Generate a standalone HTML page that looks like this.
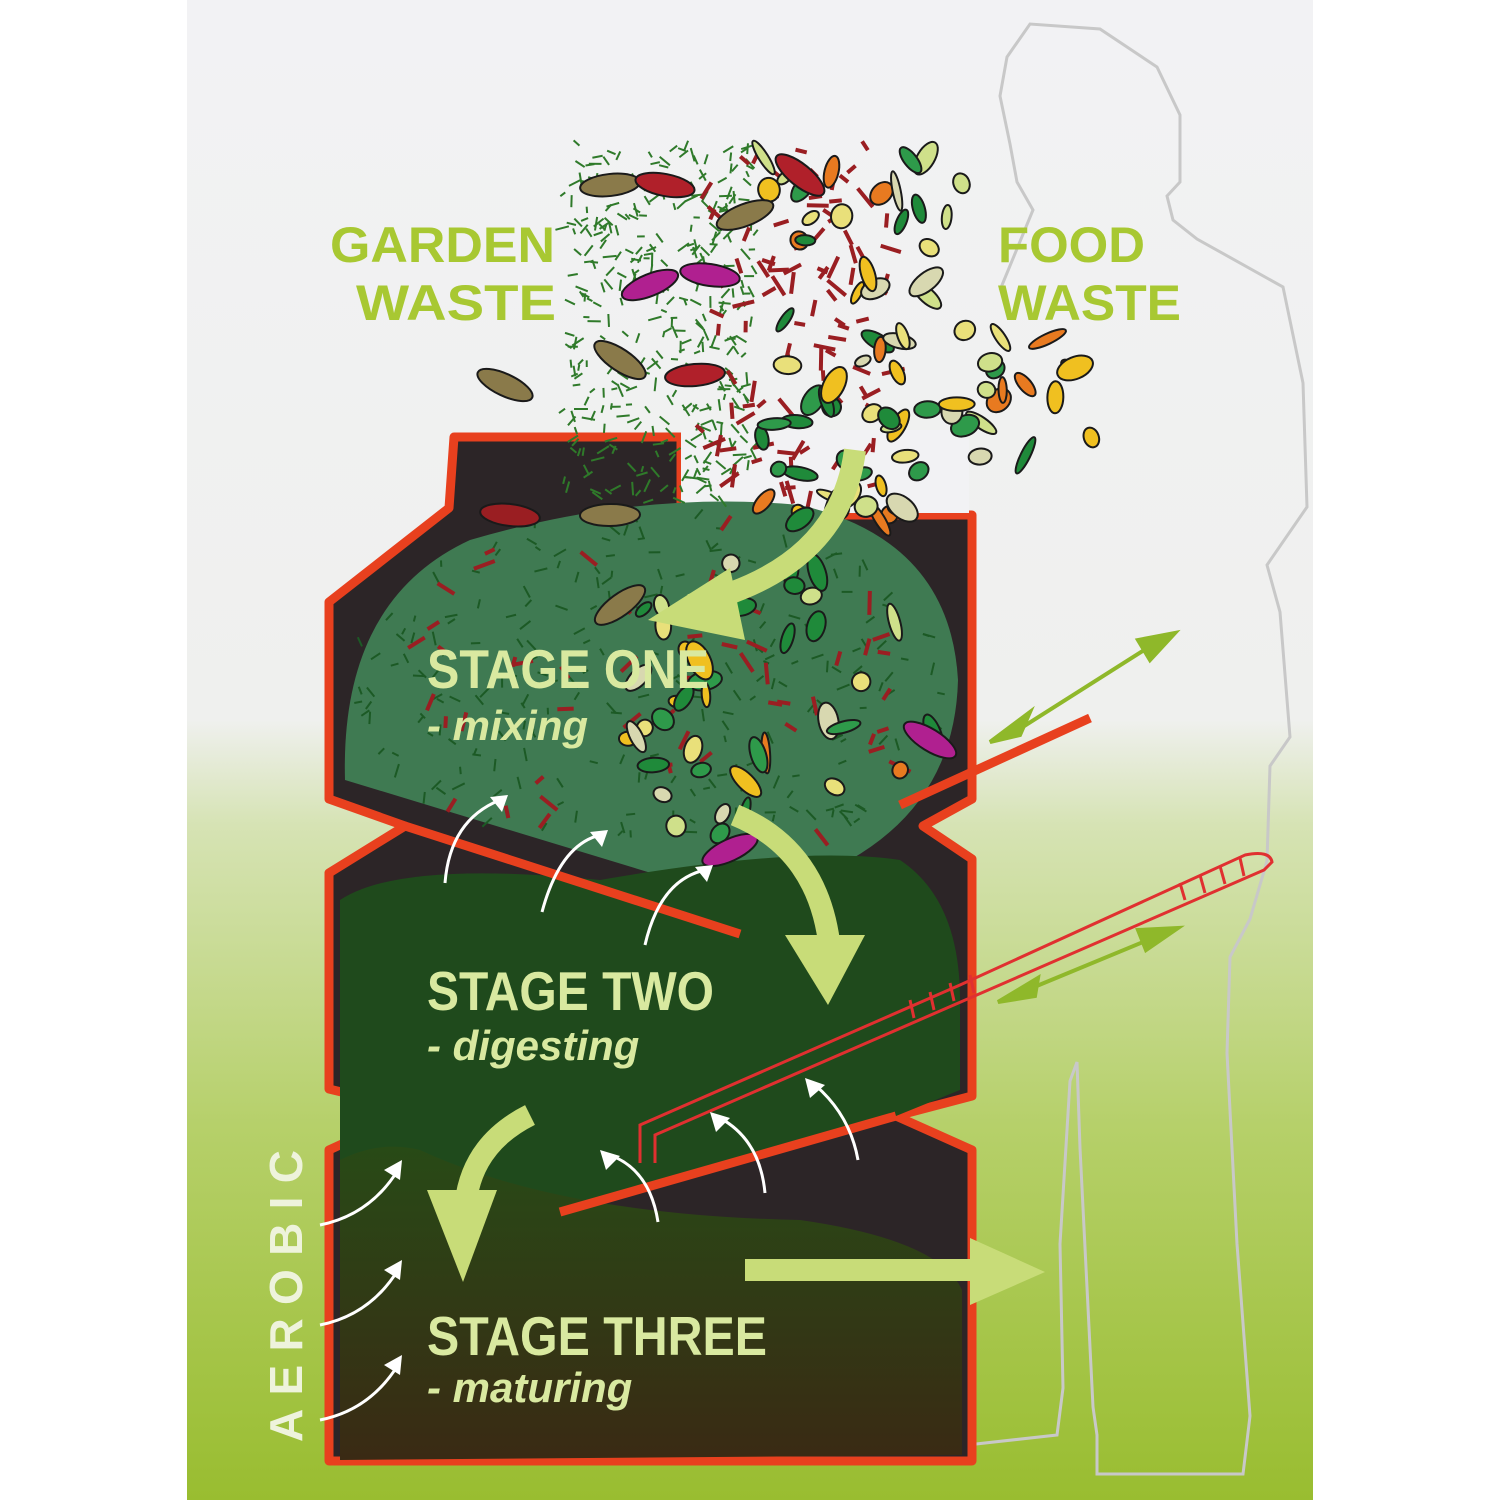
<!DOCTYPE html>
<html><head><meta charset="utf-8"><style>
html,body{margin:0;padding:0;background:#fff;}
svg{display:block}
text{font-family:"Liberation Sans",sans-serif;font-weight:bold}
</style></head><body>
<svg id="s" width="1500" height="1500" viewBox="0 0 1500 1500" xmlns="http://www.w3.org/2000/svg">
<defs>
<linearGradient id="bg" x1="0" y1="0" x2="0" y2="1">
<stop offset="0" stop-color="#f2f2f4"/><stop offset="0.48" stop-color="#eff0ee"/>
<stop offset="0.55" stop-color="#d6e3b4"/><stop offset="0.75" stop-color="#b6d06a"/>
<stop offset="1" stop-color="#99bd30"/></linearGradient>
<linearGradient id="g3" x1="0" y1="0" x2="0" y2="1">
<stop offset="0" stop-color="#284a16"/><stop offset="1" stop-color="#3a2a14"/></linearGradient>
</defs>
<rect x="187" y="0" width="1126" height="1500" fill="url(#bg)"/>
<!-- person -->
<path d="M967,1445 L1057,1435 L1063,1388 L1060,1244 L1070,1081 L1077,1062 L1080,1148 L1093,1407 L1097,1435 L1097,1474 L1243,1474 L1250,1416 L1237,1244 L1227,1053 L1230,957 L1250,919 L1267,861 L1270,766 L1290,737 L1280,612 L1267,565 L1307,507 L1303,383 L1283,287 L1197,239 L1173,220 L1167,196 L1180,182 L1180,115 L1157,67 L1100,29 L1030,24 L1007,57 L1000,96 L1010,144 L1017,182 L1033,210 L1000,290" fill="none" stroke="#c8c8c8" stroke-width="3"/>
<!-- bin body -->
<path d="M329,602 L449,508 L454,437 L681,437 L681,515 L972,515 L972,799 L923,826 L972,859 L972,1096 L896,1116 L972,1150 L972,1461 L329,1461 L329,1150 L416,1110 L329,1089 L329,873 L405,826 L329,799 Z" fill="#2c2527" stroke="#e8401e" stroke-width="9" stroke-linejoin="round"/>
<rect x="681" y="430" width="288" height="83" fill="#f2f2f4"/>
<!-- stage fills -->
<path d="M345,780 Q340,600 470,540 Q640,490 800,505 Q950,540 958,680 Q955,800 850,860 L740,900 Z" fill="#3f7a52"/>
<path d="M340,1100 L340,900 Q400,860 600,880 Q800,845 900,860 Q960,900 960,1000 L960,1090 L896,1116 L560,1212 L340,1160 Z" fill="#1f4a1c"/>
<path d="M340,1460 L340,1160 Q380,1140 420,1150 Q560,1215 800,1220 Q940,1240 962,1290 L962,1455 Z" fill="url(#g3)"/>
<!-- shelves -->
<path d="M405,826 L740,934" stroke="#e8401e" stroke-width="9"/>
<path d="M896,1116 L560,1212" stroke="#e8401e" stroke-width="9"/>
<path d="M900,805 L1090,718" stroke="#e8401e" stroke-width="9"/>
<!-- lever -->
<path d="M640,1163 L640,1125 L960,985 L1245,855 Q1270,850 1272,862 L1264,870 L655,1135 L655,1163" fill="none" stroke="#e03030" stroke-width="3"/>
<g stroke="#e03030" stroke-width="3"><path d="M1180,883 L1185,900 M1200,875 L1205,893 M1220,866 L1225,884 M1240,858 L1244,876 M910,1000 L914,1018 M930,992 L934,1010 M950,983 L954,1001 M970,975 L974,993"/></g>
<!-- debris container -->
<g id="deb"></g>
<!-- double arrows -->
<g stroke="#8fb82a" stroke-width="4" fill="#8fb82a">
<path d="M1010,735 L1160,640"/><path d="M990,742 L1030,712 L1020,735 Z M1175,633 L1138,640 L1150,660 Z"/>
<path d="M1015,995 L1160,935"/><path d="M998,1002 L1038,978 L1035,996 Z M1178,928 L1138,930 L1146,950 Z"/>
</g>
<!-- big arrows -->
<g fill="none" stroke="#c8dc78" stroke-width="22">
<path d="M855,450 Q840,570 690,605"/>
<path d="M735,815 Q820,850 830,950"/>
<path d="M530,1115 Q460,1150 465,1230"/>
<path d="M745,1270 L975,1270"/>
</g>
<g fill="#c8dc78">
<path d="M648,620 L730,568 L745,640 Z"/>
<path d="M785,935 L865,935 L828,1005 Z"/>
<path d="M427,1190 L497,1190 L463,1282 Z"/>
<path d="M970,1238 L1045,1272 L970,1305 Z"/>
</g>
<!-- white air arrows -->
<g fill="none" stroke="#fff" stroke-width="3">
<path d="M445,883 Q450,820 500,800"/><path d="M542,912 Q560,845 600,835"/><path d="M645,945 Q660,880 705,870"/>
<path d="M658,1222 Q650,1170 610,1155"/><path d="M765,1193 Q760,1140 720,1118"/><path d="M858,1160 Q850,1115 815,1085"/>
<path d="M320,1225 Q370,1215 398,1170"/><path d="M320,1325 Q370,1315 398,1270"/><path d="M320,1420 Q370,1410 398,1365"/>
</g>
<g fill="#fff">
<path d="M508,795 L490,797 L502,812 Z"/><path d="M608,830 L590,832 L602,847 Z"/><path d="M713,865 L695,867 L707,882 Z"/>
<path d="M600,1150 L606,1170 L620,1156 Z"/><path d="M710,1112 L716,1132 L730,1118 Z"/><path d="M805,1078 L810,1098 L825,1085 Z"/>
<path d="M402,1160 L384,1170 L400,1180 Z"/><path d="M402,1260 L384,1270 L400,1280 Z"/><path d="M402,1355 L384,1365 L400,1375 Z"/>
</g>
<!-- text -->
<g fill="#a8c832">
<text x="330" y="262" font-size="50" textLength="225" lengthAdjust="spacingAndGlyphs">GARDEN</text>
<text x="356" y="320" font-size="50" textLength="200" lengthAdjust="spacingAndGlyphs">WASTE</text>
<text x="998" y="262" font-size="50" textLength="147" lengthAdjust="spacingAndGlyphs">FOOD</text>
<text x="998" y="320" font-size="50" textLength="183" lengthAdjust="spacingAndGlyphs">WASTE</text>
</g>
<g fill="#d9e9a0">
<text x="427" y="688" font-size="55" textLength="282" lengthAdjust="spacingAndGlyphs">STAGE ONE</text>
<text x="427" y="740" font-size="42" font-style="italic" font-weight="normal">- mixing</text>
<text x="427" y="1010" font-size="55" textLength="287" lengthAdjust="spacingAndGlyphs">STAGE TWO</text>
<text x="427" y="1060" font-size="42" font-style="italic" font-weight="normal">- digesting</text>
<text x="427" y="1355" font-size="55" textLength="340" lengthAdjust="spacingAndGlyphs">STAGE THREE</text>
<text x="427" y="1402" font-size="42" font-style="italic" font-weight="normal">- maturing</text>
</g>
<text transform="translate(302,1442) rotate(-90)" fill="#eef3dc" font-size="46" textLength="292" lengthAdjust="spacing">AEROBIC</text>
</svg>
<script>
(function(){
var g=document.getElementById('deb');var ns='http://www.w3.org/2000/svg';
var seed=7;function r(){seed=(seed*16807)%2147483647;return seed/2147483647;}
function add(t,a){var e=document.createElementNS(ns,t);for(var k in a)e.setAttribute(k,a[k]);g.appendChild(e);}
function inDome(x,y){var dx=(x-650)/300,dy=(y-690)/180;return dx*dx+dy*dy<1&&y<840;}
// grass strokes
for(var i=0;i<700;i++){var x,y;
 if(i<400){x=565+r()*190;y=145+r()*360;} else {x=350+r()*600;y=510+r()*330;if(!inDome(x,y))continue;}
 var a=r()*6.28,l=6+r()*8;
 add('line',{x1:x,y1:y,x2:x+Math.cos(a)*l,y2:y+Math.sin(a)*l,stroke:i<400?'#2f7a2a':'#1c5a25','stroke-width':2});}
// red twigs
for(var i=0;i<160;i++){var x=700+r()*190,y=150+r()*350;if(i>100){x=420+r()*500;y=530+r()*320;if(!inDome(x,y))continue;}
 var a=r()*6.28,l=10+r()*14;add('line',{x1:x,y1:y,x2:x+Math.cos(a)*l,y2:y+Math.sin(a)*l,stroke:'#9a1e22','stroke-width':4});}
// food pieces
var cols=['#e9e07a','#2e9a4a','#cfe08a','#f0c020','#e87a20','#d8d8b0','#1f8a3a'];
for(var i=0;i<200;i++){var x,y;
 if(i<120){x=760+r()*370;y=150+r()*370;
   if(y<335&&x>975)continue; if(y>470&&x>930)continue; if(x>1130)continue;}
 else {x=380+r()*560;y=560+r()*290;if(!inDome(x,y)||x<620)continue;}
 var c=cols[Math.floor(r()*cols.length)],a=r()*180,w=7+r()*14,h=4+r()*7;
 add('ellipse',{cx:x,cy:y,rx:w,ry:h,fill:c,stroke:'#1a1a1a','stroke-width':2,transform:'rotate('+a+' '+x+' '+y+')'});}
// leaves
var lv=[[610,185,'#8a7a4a'],[745,215,'#8a7a4a'],[800,175,'#b0202a'],[650,285,'#b02090'],[710,275,'#b02090'],[620,360,'#8a7a4a'],[505,385,'#8a7a4a'],[695,375,'#b0202a'],[665,185,'#b0202a'],[510,515,'#9a1e22'],[610,515,'#8a7a4a'],[620,605,'#8a7a4a'],[930,740,'#b02090'],[730,850,'#b02090']];
lv.forEach(function(p){add('ellipse',{cx:p[0],cy:p[1],rx:30,ry:11,fill:p[2],stroke:'#1a1a1a','stroke-width':2,transform:'rotate('+(-40+r()*80)+' '+p[0]+' '+p[1]+')'});});
})();
</script>
</body></html>
